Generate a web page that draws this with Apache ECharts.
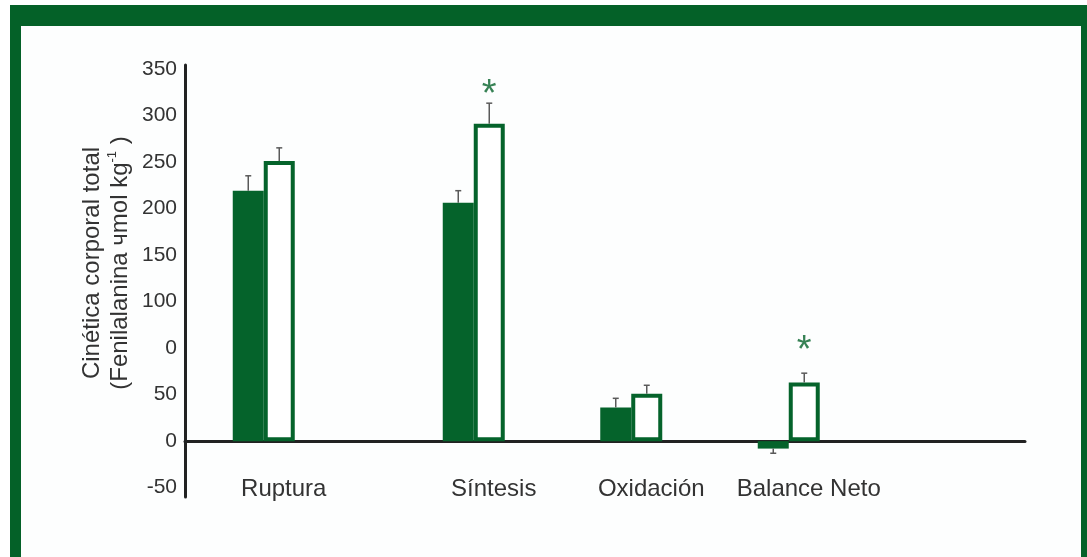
<!DOCTYPE html>
<html>
<head>
<meta charset="utf-8">
<script src="https://cdn.jsdelivr.net/npm/echarts@6/dist/echarts.min.js"></script>
<style>
  html, body { margin: 0; padding: 0; background: #ffffff; }
  #main { width: 1087px; height: 557px; }
</style>
</head>
<body>
<div id="main"></div>
<script>
// data (units: one 50-step per tick, 0 on the x axis line)
const groups = ['Ruptura', 'Síntesis', 'Oxidación', 'Balance Neto'];
const filledValues = [269, 256, 36, -8];
const filledErrors = [16, 13, 10, -5];
const openValues = [301, 341, 51, 63];
const openErrors = [14, 22, 9, 10];
const starValues = [null, 380, null, 105];
const yTickValues = [-50, 0, 50, 100, 150, 200, 250, 300, 350, 400];
const yTickLabels = ['-50', '0', '50', '0', '100', '150', '200', '250', '300', '350'];

// layout: groups sit in slots of a wider category axis
const slotCount = 16;
const slotOf = [1, 5, 8, 11];
const green = '#05632b';
const font = '"Liberation Sans", Arial, Helvetica, sans-serif';
const barW = 31;

var axisCats = [];
for (var i = 0; i < slotCount; i++) axisCats.push('');
groups.forEach(function (g, k) { axisCats[slotOf[k]] = g; });

function slotData(vals) {
    var out = [];
    for (var i = 0; i < slotCount; i++) out.push('-');
    vals.forEach(function (v, k) { out[slotOf[k]] = v; });
    return out;
}
function errData(vals, errs) {
    return vals.map(function (v, k) { return [slotOf[k], v, v + errs[k]]; });
}

function errorBar(shift) {
    return function (params, api) {
        var p1 = api.coord([api.value(0), api.value(1)]);
        var p2 = api.coord([api.value(0), api.value(2)]);
        var x = p1[0] + shift;
        var st = { stroke: '#5a5a5a', lineWidth: 1.5 };
        return {
            type: 'group',
            children: [
                { type: 'line', shape: { x1: x, y1: p1[1], x2: x, y2: p2[1] }, style: st },
                { type: 'line', shape: { x1: x - 3, y1: p2[1], x2: x + 3, y2: p2[1] }, style: st }
            ]
        };
    };
}

var chartDom = document.getElementById('main');
var myChart = echarts.init(chartDom);
var option = {
    animation: false,
    textStyle: { fontFamily: font },
    graphic: [
        { type: 'rect', z: -10, shape: { x: 10, y: 5, width: 1200, height: 700 }, style: { fill: '#046128' } },
        { type: 'rect', z: -9, shape: { x: 21, y: 26, width: 1060, height: 700 }, style: { fill: '#fdfefe' } }
    ],
    grid: { left: 185, right: 62, top: 65, bottom: 60, containLabel: false },
    xAxis: {
        type: 'category',
        data: axisCats,
        axisLine: { onZero: true, lineStyle: { color: '#222', width: 3 } },
        axisTick: { show: false },
        axisLabel: {
            interval: 0, fontSize: 24, color: '#333', margin: -20,
            padding: [0, 0, 0, 40]
        },
        splitLine: { show: false }
    },
    yAxis: {
        type: 'value',
        min: -60,
        max: 404,
        axisLine: { show: true, lineStyle: { color: '#222', width: 3 } },
        axisTick: { show: false },
        splitLine: { show: false },
        axisLabel: {
            customValues: yTickValues,
            fontSize: 21, color: '#333', margin: 8,
            formatter: function (v) {
                var k = yTickValues.indexOf(v);
                return k >= 0 ? yTickLabels[k] : '';
            }
        },
        name: 'Cinética corporal total\n(Fenilalanina чmol kg{sup|-1} )',
        nameLocation: 'middle',
        nameGap: 51,
        nameMoveOverlap: false,
        nameRotate: 90,
        nameTextStyle: {
            fontSize: 24, color: '#333', lineHeight: 28,
            padding: [0, 0, 0, 36],
            rich: { sup: { fontSize: 13, verticalAlign: 'top', lineHeight: 16, color: '#333' } }
        }
    },
    series: [
        {
            name: 'filled',
            type: 'bar',
            barWidth: barW,
            barGap: '0%',
            data: slotData(filledValues),
            itemStyle: { color: green }
        },
        {
            name: 'open',
            type: 'bar',
            barWidth: barW,
            barGap: '0%',
            data: slotData(openValues),
            itemStyle: { color: '#ffffff', borderColor: green, borderWidth: 4 }
        },
        {
            type: 'custom',
            z: 5,
            renderItem: errorBar(-barW / 2),
            data: errData(filledValues, filledErrors)
        },
        {
            type: 'custom',
            z: 5,
            renderItem: errorBar(barW / 2),
            data: errData(openValues, openErrors)
        },
        {
            type: 'scatter',
            symbolSize: 0,
            z: 6,
            data: starValues.map(function (v, k) { return v === null ? null : [slotOf[k], v]; })
                .filter(function (d) { return d; }),
            label: {
                show: true, position: 'inside', offset: [barW / 2, 8],
                formatter: '*', fontSize: 38, color: green
            }
        }
    ]
};
option && myChart.setOption(option);
</script>
</body>
</html>
